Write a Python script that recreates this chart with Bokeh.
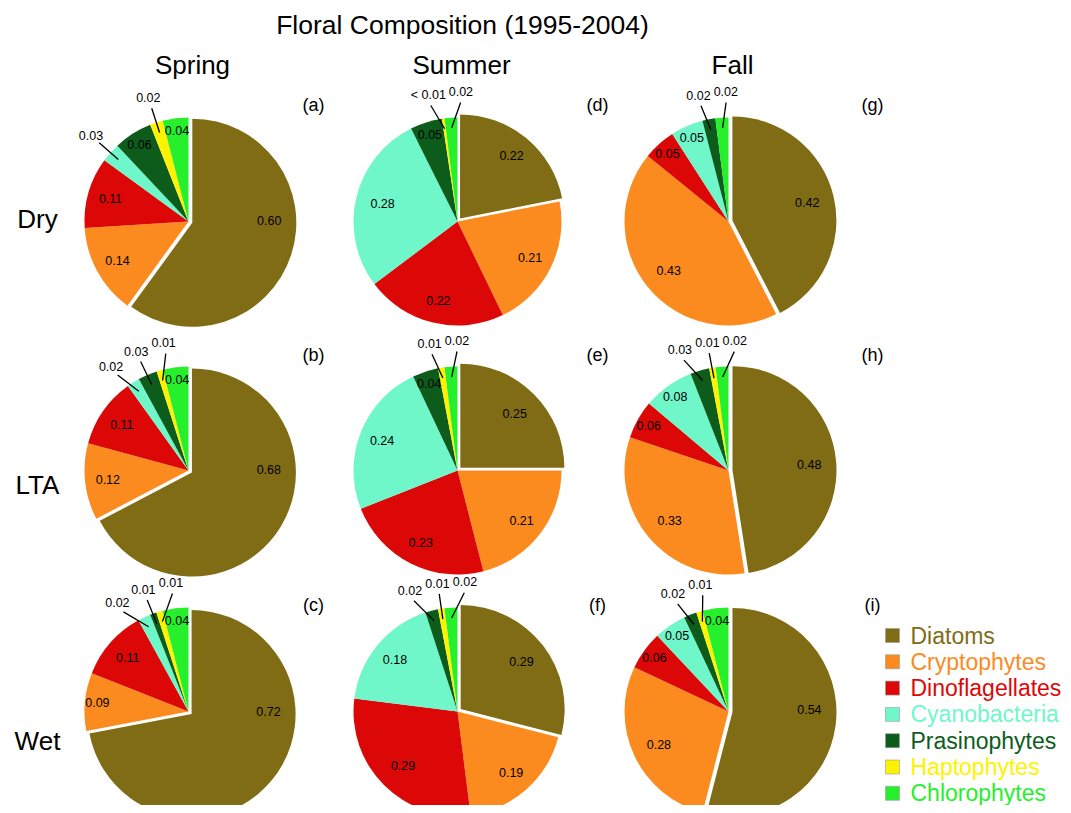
import math
from bokeh.plotting import figure
from bokeh.models import Range1d, ColumnDataSource
from bokeh.core.properties import value
from bokeh.embed import file_html
from bokeh.resources import INLINE

# ---------------- data ----------------
categories = ["Diatoms", "Cryptophytes", "Dinoflagellates", "Cyanobacteria",
              "Prasinophytes", "Haptophytes", "Chlorophytes"]
colors = ["#806c14", "#fb8b1f", "#dc0707", "#70f7c9", "#0d5c1c", "#fff200", "#26f02c"]

seasons = ["Spring", "Summer", "Fall"]
conditions = ["Dry", "LTA", "Wet"]
panel_letters = [["(a)", "(b)", "(c)"], ["(d)", "(e)", "(f)"], ["(g)", "(h)", "(i)"]]
title = "Floral Composition (1995-2004)"

spring_dry = [0.60, 0.14, 0.11, 0.03, 0.06, 0.02, 0.04]
spring_lta = [0.68, 0.12, 0.11, 0.02, 0.03, 0.01, 0.04]
spring_wet = [0.72, 0.09, 0.11, 0.02, 0.01, 0.01, 0.04]
summer_dry = [0.22, 0.21, 0.22, 0.28, 0.05, 0.004, 0.02]
summer_lta = [0.25, 0.21, 0.23, 0.24, 0.04, 0.01, 0.02]
summer_wet = [0.29, 0.19, 0.29, 0.18, 0.02, 0.01, 0.02]
fall_dry = [0.42, 0.43, 0.05, 0.05, 0.02, 0.00, 0.02]
fall_lta = [0.48, 0.33, 0.06, 0.08, 0.03, 0.01, 0.02]
fall_wet = [0.54, 0.28, 0.06, 0.05, 0.02, 0.01, 0.04]

pies = [[spring_dry, spring_lta, spring_wet],
        [summer_dry, summer_lta, summer_wet],
        [fall_dry, fall_lta, fall_wet]]

# ---------------- layout (reference pixel coordinates) ----------------
REF_H = 813
W, H = 1063, 805
col_x = [188, 457, 728]
row_y = [221, 470, 711]
R = 104
EXPLODE = 4
header_y = 64
row_label_x = 37
row_label_y = [218, 484, 740]
letter_x = [313, 597, 872]
letter_y = [104, 354, 604]
leg_sq_x = 892
leg_txt_x = 910
leg_y0 = 635
leg_dy = 26.3
FONT = value("Liberation Sans")
LABEL_PX = 12.5


def Y(yref):
    return REF_H - yref


def text_width(s, px=LABEL_PX):
    w = {".": 0.278, " ": 0.278, "<": 0.584}
    return sum(w.get(ch, 0.556) for ch in s) * px


p = figure(width=W, height=H, x_range=Range1d(0, W), y_range=Range1d(REF_H - H, REF_H),
           output_backend="svg", toolbar_location=None, x_axis_location=None,
           y_axis_location=None, min_border=0, outline_line_color=None)
p.background_fill_color = "white"
p.border_fill_color = "white"
p.xgrid.grid_line_color = None
p.ygrid.grid_line_color = None

wx, wy, ws, we, wc = [], [], [], [], []
tx, ty, tt = [], [], []
lx0, ly0, lx1, ly1 = [], [], [], []

for ci in range(3):
    for ri in range(3):
        vals = pies[ci][ri]
        cx, cy = col_x[ci], row_y[ri]
        tot = sum(vals)
        cum = 0.0
        outside = []
        for k, v in enumerate(vals):
            if v <= 0:
                continue
            c0 = cum / tot
            c1 = (cum + v) / tot
            cum += v
            bis = 180.0 * (c0 + c1)
            ox = oy = 0.0
            if k == 0:
                ox = EXPLODE * math.sin(math.radians(bis))
                oy = EXPLODE * math.cos(math.radians(bis))
            wx.append(cx + ox)
            wy.append(Y(cy) + oy)
            ws.append(math.pi / 2 - 2 * math.pi * c1)
            we.append(math.pi / 2 - 2 * math.pi * c0)
            wc.append(colors[k])
            lab = "< 0.01" if v < 0.01 else f"{v:.2f}"
            if v <= 0.0300001:
                outside.append([bis, lab])
            else:
                th = min(bis, 88.0) if k == 0 else bis
                r = R * (0.74 if v >= 0.25 else 0.78 if v >= 0.1 else 0.88)
                tx.append(cx + ox + r * math.sin(math.radians(th)))
                ty.append(Y(cy) + oy + r * math.cos(math.radians(th)))
                tt.append(lab)
        # spread outside labels along circle
        outside.sort()
        RO = 1.25 * R
        pos = [o[0] for o in outside]
        wid = [text_width(o[1]) for o in outside]

        def ext(th, w):
            return abs(w * math.cos(math.radians(th))) + abs(LABEL_PX * math.sin(math.radians(th)))

        for _ in range(400):
            for i in range(1, len(pos)):
                need = math.degrees(((ext(pos[i - 1], wid[i - 1]) + ext(pos[i], wid[i])) / 2 + 2) / RO)
                gap = pos[i] - pos[i - 1]
                if gap < need:
                    d = (need - gap) / 2
                    pos[i - 1] -= d
                    pos[i] += d
        for (bis, lab), th in zip(outside, pos):
            tx.append(cx + RO * math.sin(math.radians(th)))
            ty.append(Y(cy) + RO * math.cos(math.radians(th)))
            tt.append(lab)
            lx0.append(cx + 0.9 * R * math.sin(math.radians(bis)))
            ly0.append(Y(cy) + 0.9 * R * math.cos(math.radians(bis)))
            lx1.append(cx + (RO - 11) * math.sin(math.radians(th)))
            ly1.append(Y(cy) + (RO - 11) * math.cos(math.radians(th)))

p.wedge(x="x", y="y", radius=R, start_angle="s", end_angle="e", direction="anticlock",
        fill_color="c", line_color=None,
        source=ColumnDataSource(dict(x=wx, y=wy, s=ws, e=we, c=wc)))
p.segment(x0=lx0, y0=ly0, x1=lx1, y1=ly1, line_color="black", line_width=1.3)
p.text(x=tx, y=ty, text=tt, text_font=FONT, text_font_size=f"{LABEL_PX}px",
       text_align="center", text_baseline="middle", text_color="black")

# title, headers, row labels, panel letters
p.text(x=[462], y=[Y(24)], text=[title], text_font=FONT, text_font_size="26.5px",
       text_align="center", text_baseline="middle", text_color="black")
p.text(x=[c + 4 for c in col_x], y=[Y(header_y)] * 3, text=seasons, text_font=FONT,
       text_font_size="26px", text_align="center", text_baseline="middle", text_color="black")
p.text(x=[row_label_x] * 3, y=[Y(v) for v in row_label_y], text=conditions, text_font=FONT,
       text_font_size="26px", text_align="center", text_baseline="middle", text_color="black")
lt_x, lt_y, lt_t = [], [], []
for ci in range(3):
    for ri in range(3):
        lt_x.append(letter_x[ci])
        lt_y.append(Y(letter_y[ri]))
        lt_t.append(panel_letters[ci][ri])
p.text(x=lt_x, y=lt_y, text=lt_t, text_font=FONT, text_font_size="18px",
       text_align="center", text_baseline="middle", text_color="black")

# legend
leg_y = [Y(leg_y0 + i * leg_dy) for i in range(len(categories))]
p.rect(x=[leg_sq_x] * len(categories), y=leg_y, width=14, height=14, fill_color=colors,
       line_color="#9a9a9a", line_width=0.6)
p.text(x=[leg_txt_x] * len(categories), y=leg_y, text=categories, text_font=FONT,
       text_font_size="23px", text_align="left", text_baseline="middle", text_color=colors)

open("out.html", "w").write(file_html(p, INLINE))
